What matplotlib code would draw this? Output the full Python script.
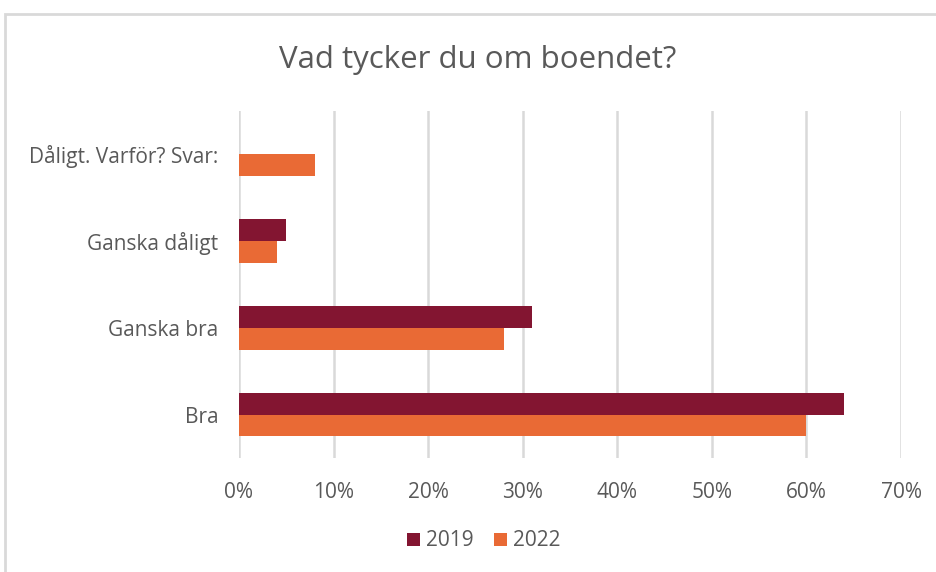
import numpy as np
import matplotlib.pyplot as plt
from matplotlib.patches import Rectangle

categories = ["Bra", "Ganska bra", "Ganska dåligt", "Dåligt. Varför? Svar:"]
series_names = ["2019", "2022"]
values_2019 = [64, 31, 5, 0]
values_2022 = [60, 28, 4, 8]
ticks = [0, 10, 20, 30, 40, 50, 60, 70]

col_2019 = "#831531"
col_2022 = "#E96A35"
txt = "#595959"

plt.rcParams["font.family"] = ["Open Sans", "DejaVu Sans"]

fig = plt.figure(figsize=(9.37, 5.72), dpi=100)

# outer chart frame (light grey, runs off the right/bottom)
fig.patches.append(Rectangle((5 / 937, -0.05), 1.0, 1 - 14 / 572 + 0.05,
                             transform=fig.transFigure, fill=False,
                             edgecolor="#d9d9d9", linewidth=2))

ax = fig.add_axes([239 / 937, 1 - 458 / 572, (901 - 239) / 937, (458 - 111) / 572])

y = np.arange(len(categories))
h = 0.25
ax.barh(y + h / 2, values_2019, height=h, color=col_2019, label=series_names[0], zorder=3)
ax.barh(y - h / 2, values_2022, height=h, color=col_2022, label=series_names[1], zorder=3)

ax.set_ylim(-0.5, len(categories) - 0.5)
ax.set_xlim(0, 70)
ax.set_xticks(ticks)
ax.set_xticklabels([f"{t}%" for t in ticks])
ax.set_yticks(y)
ax.set_yticklabels(categories)
ax.tick_params(length=0, labelsize=15, colors=txt)
ax.tick_params(axis="x", pad=17)
ax.tick_params(axis="y", pad=15)
ax.grid(axis="x", color="#d9d9d9", linewidth=1.8, zorder=0)
for s in ax.spines.values():
    s.set_visible(False)

fig.text(478 / 937, 1 - 60 / 572, "Vad tycker du om boendet?", ha="center", va="center",
         fontsize=22.5, color=txt)

fig.legend(loc="center", bbox_to_anchor=(484 / 937, 1 - 541 / 572), ncol=2, frameon=False,
           fontsize=15, labelcolor=txt, handlelength=0.6, handleheight=0.6,
           handletextpad=0.3, columnspacing=1.0)

fig.savefig("out.png", dpi=100)
